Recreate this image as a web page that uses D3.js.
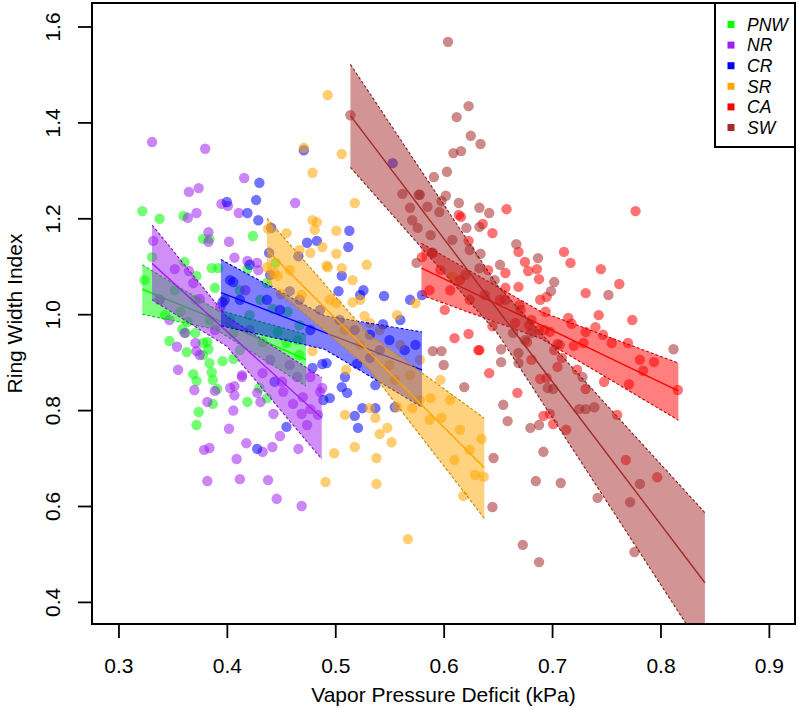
<!DOCTYPE html>
<html>
<head>
<meta charset="utf-8">
<script src="https://cdn.jsdelivr.net/npm/d3@7"></script>
<style>
  body { margin: 0; background: #fff; }
  svg { display: block; font-family: "Liberation Sans", Arial, sans-serif; }
</style>
</head>
<body>
<div id="chart"></div>
<script>
// --- DATA ---

const regions = ["PNW", "NR", "CR", "SR", "CA", "SW"];
const regionColors = ["#00ff00", "#a020f0", "#0000ff", "#ffa500", "#ff0000", "#a52a2a"];

const xTicks = [0.3, 0.4, 0.5, 0.6, 0.7, 0.8, 0.9];
const yTicks = [0.4, 0.6, 0.8, 1.0, 1.2, 1.4, 1.6];

// [vpd, ring width index]
const pnwPoints = [
  [0.322,1.215],[0.338,1.199],[0.360,1.205],[0.378,1.157],[0.384,1.157],[0.424,1.163],[0.331,1.119],
  [0.361,1.109],[0.372,1.080],[0.386,1.096],[0.392,1.096],[0.389,1.055],[0.445,1.107],[0.437,1.065],
  [0.419,1.094],[0.347,0.944],[0.363,0.921],[0.359,0.969],[0.383,0.927],[0.384,0.898],[0.369,0.875],
  [0.372,0.861],[0.386,0.879],[0.387,0.863],[0.391,0.844],[0.387,0.813],[0.374,0.796],[0.372,0.769],
  [0.396,0.902],[0.406,0.907],[0.419,0.817],[0.430,0.846],[0.437,0.825],[0.382,0.942],[0.378,0.915],
  [0.362,0.961],[0.378,0.940],[0.364,0.984],[0.357,1.005],[0.371,0.961],[0.406,0.961],[0.412,0.925],
  [0.433,0.942],[0.447,0.963],[0.455,0.940],[0.465,0.946],[0.403,0.988],[0.421,0.998],[0.442,1.011],
  [0.456,1.005],[0.467,0.977],[0.338,1.030],[0.352,1.050],[0.343,0.998],[0.398,1.030],[0.412,1.050],
  [0.431,1.030],[0.324,1.071],[0.371,1.030],[0.384,0.988],[0.467,0.915]
];

const nrPoints = [
  [0.331,1.359],[0.380,1.345],[0.365,1.255],[0.374,1.263],[0.416,1.284],[0.364,1.201],[0.372,1.211],
  [0.395,1.230],[0.401,1.226],[0.411,1.211],[0.463,1.232],[0.383,1.171],[0.383,1.151],[0.402,1.151],
  [0.332,1.153],[0.407,1.118],[0.419,1.111],[0.428,1.107],[0.429,1.092],[0.365,1.090],[0.369,1.065],
  [0.352,1.094],[0.375,1.032],[0.394,1.015],[0.354,0.932],[0.355,0.884],[0.361,0.961],[0.370,0.842],
  [0.372,0.923],[0.375,0.915],[0.371,0.940],[0.382,0.817],[0.389,0.840],[0.406,0.799],[0.402,0.761],
  [0.407,0.850],[0.407,0.831],[0.414,0.869],[0.379,0.717],[0.384,0.721],[0.409,0.698],[0.418,0.731],
  [0.382,0.652],[0.412,0.656],[0.438,0.654],[0.433,0.713],[0.431,0.817],[0.428,0.836],[0.442,0.723],
  [0.443,0.792],[0.449,0.746],[0.446,0.615],[0.466,0.719],[0.469,0.600],[0.452,0.838],[0.461,0.813],
  [0.477,0.802],[0.484,0.790],[0.486,0.838],[0.469,0.792],[0.451,0.859],[0.433,0.877],[0.474,0.769],
  [0.465,0.869],[0.477,0.869],[0.470,0.827],[0.488,0.846],[0.403,0.846],[0.414,0.873],[0.338,1.030],
  [0.347,0.988],[0.389,0.967],[0.421,0.967],[0.440,0.905],[0.458,0.894],[0.398,1.030],[0.417,1.050]
];

const crPoints = [
  [0.400,1.234],[0.430,1.274],[0.427,1.238],[0.419,1.211],[0.429,1.196],[0.471,1.342],[0.483,1.153],
  [0.474,1.149],[0.513,1.174],[0.512,1.140],[0.506,1.080],[0.503,1.048],[0.526,1.050],[0.523,1.040],
  [0.545,1.038],[0.544,0.979],[0.553,1.315],[0.466,1.121],[0.439,1.128],[0.441,1.180],[0.437,1.030],
  [0.396,1.025],[0.406,1.067],[0.509,0.869],[0.506,0.848],[0.511,0.836],[0.537,0.852],[0.537,0.804],
  [0.518,0.788],[0.521,0.763],[0.525,0.804],[0.492,0.898],[0.488,0.896],[0.495,0.825],[0.489,0.821],
  [0.455,0.765],[0.479,0.888],[0.520,0.896],[0.532,0.909],[0.541,0.925],[0.555,0.806],[0.428,0.719],
  [0.444,0.859],[0.580,1.040],[0.403,1.071],[0.421,1.103],[0.440,1.082],[0.458,1.048],[0.467,1.030],
  [0.486,1.009],[0.504,0.988],[0.518,0.967],[0.532,0.957],[0.550,0.946],[0.564,0.925],[0.574,0.936],
  [0.412,1.030],[0.449,1.009],[0.477,0.967],[0.560,0.988],[0.569,1.030]
];

const srPoints = [
  [0.493,1.457],[0.471,1.347],[0.506,1.334],[0.479,1.295],[0.518,1.232],[0.438,1.178],[0.455,1.169],
  [0.479,1.196],[0.481,1.176],[0.488,1.140],[0.501,1.174],[0.493,1.098],[0.506,1.096],[0.529,1.103],
  [0.501,1.126],[0.516,1.071],[0.557,0.998],[0.527,0.996],[0.447,1.080],[0.437,1.098],[0.469,1.040],
  [0.483,1.192],[0.477,1.128],[0.492,1.101],[0.444,1.086],[0.450,1.042],[0.516,1.025],[0.501,1.023],
  [0.574,1.023],[0.532,0.982],[0.479,0.923],[0.510,0.884],[0.509,0.790],[0.537,0.784],[0.541,0.750],
  [0.548,0.763],[0.552,0.733],[0.518,0.723],[0.499,0.710],[0.538,0.700],[0.491,0.650],[0.538,0.646],
  [0.567,0.531],[0.532,0.804],[0.557,0.806],[0.588,0.825],[0.598,0.784],[0.635,0.740],[0.629,0.665],
  [0.637,0.661],[0.618,0.621],[0.571,0.804],[0.608,1.078],[0.523,1.030],[0.541,0.967],[0.560,0.936],
  [0.578,0.905],[0.597,0.863],[0.555,0.863],[0.578,0.821],[0.606,0.821],[0.615,0.759],[0.624,0.717],
  [0.467,1.134],[0.458,1.092],[0.495,1.030],[0.509,0.967],[0.523,0.936],[0.550,0.894],[0.569,0.873],
  [0.587,0.780],[0.610,0.696]
];

const caPoints = [
  [0.658,1.219],[0.777,1.215],[0.614,1.207],[0.616,1.203],[0.636,1.188],[0.645,1.169],[0.623,1.153],
  [0.580,1.119],[0.669,1.130],[0.675,1.109],[0.686,1.094],[0.678,1.090],[0.688,1.073],[0.657,1.086],
  [0.641,1.092],[0.711,1.130],[0.717,1.107],[0.745,1.094],[0.731,1.044],[0.695,1.036],[0.669,1.057],
  [0.657,1.055],[0.590,1.128],[0.762,1.063],[0.743,0.998],[0.774,0.988],[0.740,0.973],[0.747,0.957],
  [0.755,0.940],[0.770,0.940],[0.781,0.905],[0.794,0.900],[0.784,0.882],[0.748,0.859],[0.771,0.854],
  [0.816,0.842],[0.760,0.790],[0.694,1.005],[0.715,0.992],[0.718,0.980],[0.731,0.963],[0.729,0.940],
  [0.720,0.934],[0.702,0.925],[0.709,0.909],[0.698,0.963],[0.688,0.967],[0.679,0.977],[0.666,0.982],
  [0.645,0.975],[0.633,0.925],[0.642,0.877],[0.668,0.836],[0.681,0.905],[0.689,0.865],[0.695,0.867],
  [0.723,0.884],[0.731,0.844],[0.692,0.788],[0.701,0.771],[0.713,0.759],[0.698,0.792],[0.705,0.890],
  [0.768,0.696],[0.797,0.660],[0.677,0.942],[0.606,1.050],[0.610,0.950],[0.623,0.959],[0.632,0.925],
  [0.597,1.092],[0.615,1.071],[0.624,1.030],[0.652,1.030],[0.671,1.009],[0.689,1.030],[0.587,1.050],
  [0.601,1.009]
];

const swPoints = [
  [0.604,1.568],[0.623,1.434],[0.612,1.411],[0.625,1.372],[0.634,1.355],[0.609,1.336],[0.616,1.340],
  [0.591,1.286],[0.603,1.297],[0.602,1.247],[0.598,1.236],[0.614,1.232],[0.633,1.222],[0.642,1.211],
  [0.596,1.213],[0.578,1.249],[0.621,1.180],[0.633,1.182],[0.588,1.165],[0.634,1.126],[0.667,1.146],
  [0.687,1.117],[0.702,1.067],[0.699,1.048],[0.752,1.040],[0.514,1.415],[0.562,1.251],[0.577,1.249],
  [0.569,1.222],[0.585,1.224],[0.571,1.196],[0.576,1.180],[0.575,1.107],[0.589,1.128],[0.812,0.927],
  [0.590,0.923],[0.598,0.923],[0.653,0.927],[0.653,0.900],[0.669,0.898],[0.728,0.869],[0.725,0.802],
  [0.731,0.802],[0.739,0.806],[0.701,0.844],[0.655,0.811],[0.659,0.777],[0.680,0.763],[0.688,0.769],
  [0.692,0.713],[0.646,0.700],[0.685,0.652],[0.708,0.648],[0.742,0.617],[0.772,0.608],[0.781,0.646],
  [0.645,0.598],[0.673,0.519],[0.688,0.483],[0.776,0.504],[0.681,0.961],[0.664,0.961],[0.600,0.894],
  [0.619,0.848],[0.669,0.919],[0.705,0.938],[0.696,0.846],[0.608,1.155],[0.624,1.134],[0.633,1.096],
  [0.647,1.071],[0.657,1.030],[0.670,1.019],[0.681,0.988],[0.693,0.967],[0.707,0.936],[0.652,1.103],
  [0.620,1.082],[0.638,1.040],[0.675,0.946]
];

// fitted line with confidence band: [vpd, fit, lower, upper]
const pnwFit = [[0.322,1.052,1.000,1.103],[0.390,0.989,0.968,1.010],[0.473,0.905,0.850,0.958]];
const nrFit  = [[0.331,1.106,1.030,1.186],[0.400,0.964,0.933,0.995],[0.4875,0.784,0.698,0.868]];
const crFit  = [[0.3945,1.045,0.976,1.114],[0.490,0.962,0.927,0.997],[0.580,0.884,0.806,0.963]];
const srFit  = [[0.437,1.134,1.068,1.200],[0.530,0.924,0.889,0.960],[0.6375,0.680,0.574,0.783]];
const caFit  = [[0.5795,1.096,1.040,1.148],[0.690,0.977,0.949,1.005],[0.8165,0.840,0.779,0.898]];
const swFit  = [[0.514,1.414,1.306,1.521],[0.650,1.009,0.959,1.059],[0.841,0.440,0.294,0.586]];

const allPoints = [pnwPoints, nrPoints, crPoints, srPoints, caPoints, swPoints];
const allFits = [pnwFit, nrFit, crFit, srFit, caFit, swFit];

// --- LAYOUT ---

const width = 799, height = 708;
const plot = {left: 92, right: 795, top: 3, bottom: 624};

const svg = d3.select("#chart").append("svg")
    .attr("width", width)
    .attr("height", height);

const x = d3.scaleLinear().domain([0.2756, 0.9241]).range([plot.left, plot.right]);
const y = d3.scaleLinear().domain([0.3539, 1.649]).range([plot.bottom, plot.top]);

svg.append("clipPath").attr("id", "plotClip")
    .append("rect")
    .attr("x", plot.left).attr("y", plot.top)
    .attr("width", plot.right - plot.left).attr("height", plot.bottom - plot.top);

const layer = svg.append("g").attr("clip-path", "url(#plotClip)");

// points
allPoints.forEach((pts, i) => {
    layer.append("g").selectAll("circle")
        .data(pts)
        .join("circle")
        .attr("cx", d => x(d[0]))
        .attr("cy", d => y(d[1]))
        .attr("r", 5.2)
        .attr("fill", regionColors[i])
        .attr("fill-opacity", 0.55);
});

// bands + fit lines
const area = d3.area().x(d => x(d[0])).y0(d => y(d[2])).y1(d => y(d[3]));
const lineAt = k => d3.line().x(d => x(d[0])).y(d => y(d[k]));

allFits.forEach((fit, i) => {
    const g = layer.append("g");
    const c = regionColors[i];
    g.append("path").attr("d", area(fit))
        .attr("fill", c).attr("fill-opacity", 0.5);
    [2, 3].forEach(k => {
        g.append("path").attr("d", lineAt(k)(fit))
            .attr("fill", "none").attr("stroke", d3.color(c).darker(0.6))
            .attr("stroke-width", 1.1).attr("stroke-dasharray", "3,2");
    });
    g.append("path").attr("d", lineAt(1)(fit))
        .attr("fill", "none").attr("stroke", c).attr("stroke-width", 1.4);
});

// --- AXES ---

const xAxis = svg.append("g")
    .attr("transform", `translate(0,${plot.bottom})`)
    .call(d3.axisBottom(x).tickValues(xTicks).tickSize(14).tickSizeOuter(0).tickFormat(d3.format(".1f")));
xAxis.select(".domain").remove();
xAxis.selectAll(".tick line").attr("stroke", "#000").attr("stroke-width", 1.8);
xAxis.selectAll(".tick text")
    .attr("y", 49).attr("dy", 0)
    .attr("font-size", 21).attr("font-family", "Liberation Sans, Arial, sans-serif").attr("fill", "#000");

const yAxis = svg.append("g")
    .attr("transform", `translate(${plot.left},0)`)
    .call(d3.axisLeft(y).tickValues(yTicks).tickSize(14).tickSizeOuter(0).tickFormat(d3.format(".1f")));
yAxis.select(".domain").remove();
yAxis.selectAll(".tick line").attr("stroke", "#000").attr("stroke-width", 1.8);
yAxis.selectAll(".tick text")
    .attr("x", 0).attr("y", 0).attr("dy", 0)
    .attr("transform", "translate(-32,0) rotate(-90)")
    .attr("text-anchor", "middle")
    .attr("font-size", 21).attr("font-family", "Liberation Sans, Arial, sans-serif").attr("fill", "#000");

// plot box
svg.append("rect")
    .attr("x", plot.left).attr("y", plot.top)
    .attr("width", plot.right - plot.left).attr("height", plot.bottom - plot.top)
    .attr("fill", "none").attr("stroke", "#000").attr("stroke-width", 2);

// axis titles
svg.append("text")
    .attr("x", (plot.left + plot.right) / 2).attr("y", 702)
    .attr("text-anchor", "middle").attr("font-size", 21)
    .text("Vapor Pressure Deficit (kPa)");

svg.append("text")
    .attr("transform", `translate(22,${(plot.top + plot.bottom) / 2}) rotate(-90)`)
    .attr("text-anchor", "middle").attr("font-size", 21)
    .text("Ring Width Index");

// --- LEGEND ---

const legend = svg.append("g");
legend.append("rect")
    .attr("x", 715).attr("y", plot.top)
    .attr("width", plot.right - 715).attr("height", 144)
    .attr("fill", "#fff").attr("stroke", "#000").attr("stroke-width", 2);

const legendItem = legend.selectAll(".legendItem")
    .data(regions)
    .join("g")
    .attr("class", "legendItem")
    .attr("transform", (d, i) => `translate(731,${24.5 + i * 20.6})`);

legendItem.append("rect")
    .attr("x", -3.5).attr("y", -3.5).attr("width", 7).attr("height", 7)
    .attr("fill", (d, i) => regionColors[i]);

legendItem.append("text")
    .attr("x", 16).attr("dy", "0.36em")
    .attr("font-size", 17.5).attr("font-style", "italic")
    .text(d => d);
</script>
</body>
</html>
